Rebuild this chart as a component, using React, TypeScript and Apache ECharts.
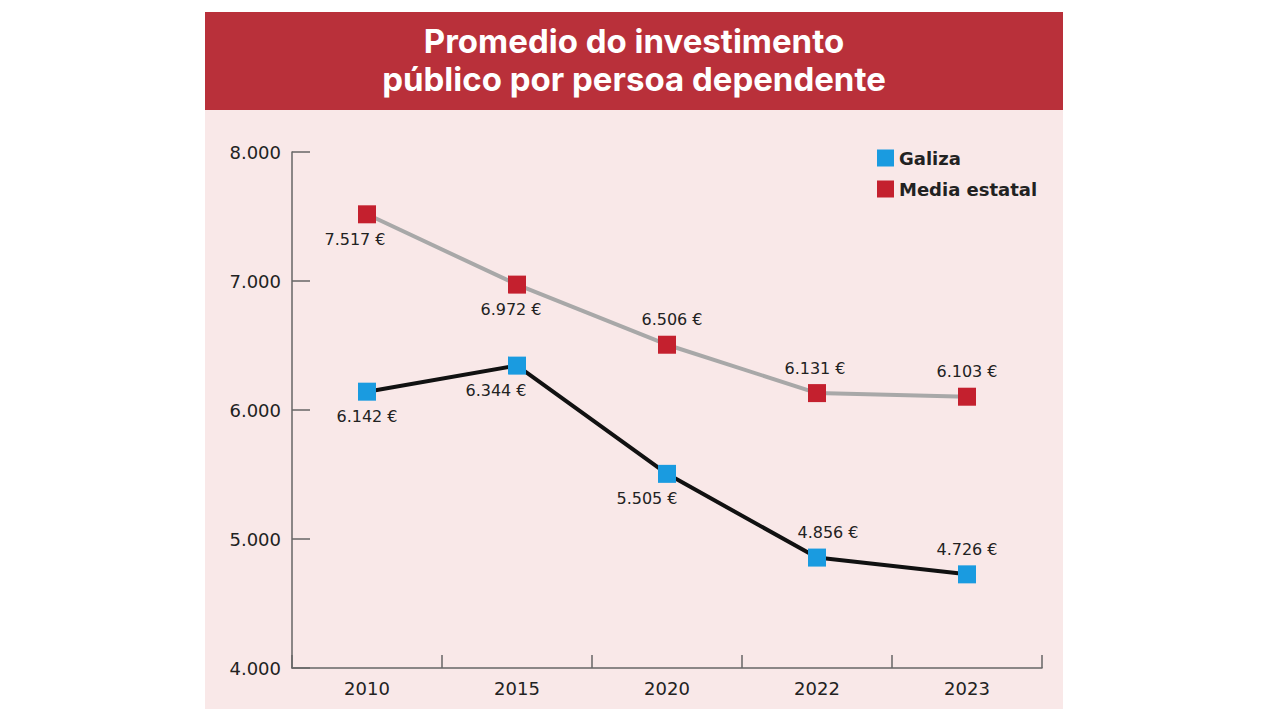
import React, { useEffect, useRef } from "react";
import * as echarts from "echarts";

const years = ["2010", "2015", "2020", "2022", "2023"];
const galiza = [6142, 6344, 5505, 4856, 4726];
const mediaEstatal = [7517, 6972, 6506, 6131, 6103];
const galizaLabelPos = ["bottom", "bottom", "bottom", "top", "top"];
const galizaLabelDx = [0, -21, -20, 11, 0];
const mediaLabelPos = ["bottom", "bottom", "top", "top", "top"];
const mediaLabelDx = [-12, -6, 5, -2, 0];
const titleLines = ["Promedio do investimento", "público por persoa dependente"];

const fmt = (v: number) => {
  const s = String(Math.round(v));
  return s.replace(/\B(?=(\d{3})+(?!\d))/g, ".");
};

export default function App() {
  const ref = useRef<HTMLDivElement>(null);
  useEffect(() => {
    if (!ref.current) return;
    const chart = echarts.init(ref.current, null, { renderer: "svg" });
    const font = "'DejaVu Sans', sans-serif";
    const mk = (vals: number[], pos: string[], dx: number[]) =>
      vals.map((v, i) => ({
        value: v,
        label: { position: pos[i], offset: [dx[i], 0] },
      }));
    chart.setOption({
      animation: false,
      backgroundColor: "#ffffff",
      graphic: [
        {
          type: "rect",
          shape: { x: 205, y: 12, width: 858, height: 98 },
          style: { fill: "#b9303a" },
          silent: true,
          z: -10,
        },
        {
          type: "rect",
          shape: { x: 205, y: 110, width: 858, height: 599 },
          style: { fill: "#f9e8e8" },
          silent: true,
          z: -10,
        },
        ...titleLines.map((t, i) => ({
          type: "text",
          x: 634,
          y: 41 + i * 38,
          style: {
            text: t,
            fill: "#ffffff",
            font: "bold 33px Inter, sans-serif",
            align: "center",
            verticalAlign: "middle",
          },
          z: 10,
        })),
      ],
      grid: { left: 292, right: 238, top: 152, bottom: 52 },
      legend: {
        left: 872,
        top: 144,
        orient: "vertical",
        icon: "rect",
        itemWidth: 17,
        itemHeight: 17,
        itemGap: 13,
        textStyle: { fontSize: 18, color: "#222", fontFamily: font, fontWeight: "bold" },
        data: ["Galiza", "Media estatal"],
      },
      xAxis: {
        type: "category",
        data: years,
        boundaryGap: true,
        axisLine: { lineStyle: { color: "#666", width: 1.5 } },
        axisTick: {
          show: true,
          interval: 0,
          inside: true,
          length: 13,
          lineStyle: { color: "#666", width: 1.5 },
        },
        axisLabel: { fontSize: 18, color: "#222", fontFamily: font, margin: 11 },
      },
      yAxis: {
        type: "value",
        min: 4000,
        max: 8000,
        interval: 1000,
        splitLine: { show: false },
        axisLine: { show: true, lineStyle: { color: "#666", width: 1.5 } },
        axisTick: { show: true, inside: true, length: 18, lineStyle: { color: "#666", width: 1.5 } },
        axisLabel: {
          fontSize: 18,
          color: "#222",
          fontFamily: font,
          margin: 11,
          formatter: (v: number) => fmt(v),
        },
      },
      series: [
        {
          name: "Media estatal",
          type: "line",
          data: mk(mediaEstatal, mediaLabelPos, mediaLabelDx),
          symbol: "rect",
          symbolSize: 18,
          itemStyle: { color: "#c4202e" },
          lineStyle: { color: "#a8a8a8", width: 4 },
          label: {
            show: true,
            distance: 8,
            fontSize: 16,
            color: "#222",
            fontFamily: font,
            formatter: (p: any) => fmt(p.value) + " €",
          },
          z: 3,
        },
        {
          name: "Galiza",
          type: "line",
          data: mk(galiza, galizaLabelPos, galizaLabelDx),
          symbol: "rect",
          symbolSize: 18,
          itemStyle: { color: "#1a9be0" },
          lineStyle: { color: "#111111", width: 4 },
          label: {
            show: true,
            distance: 8,
            fontSize: 16,
            color: "#222",
            fontFamily: font,
            formatter: (p: any) => fmt(p.value) + " €",
          },
          z: 4,
        },
      ],
    });
    return () => chart.dispose();
  }, []);
  return (
    <div
      ref={ref}
      style={{ position: "absolute", left: 0, top: 0, width: 1280, height: 720 }}
    />
  );
}
